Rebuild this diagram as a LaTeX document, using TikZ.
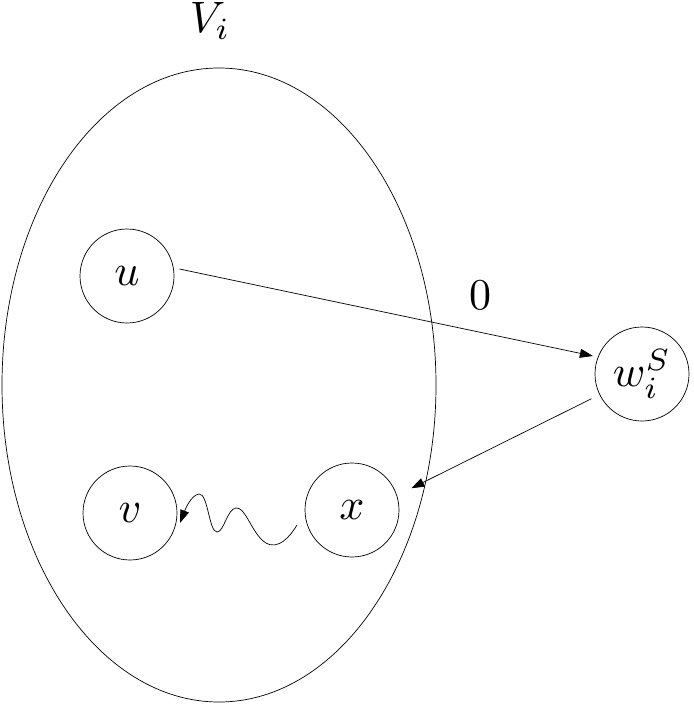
\documentclass[tikz,border=0pt]{standalone}
\usetikzlibrary{arrows.meta}
\newcommand{\myLargeMath}[1]{\scalebox{4.4}{$#1$}}
\begin{document}
\begin{tikzpicture}[x=1pt,y=-1pt,
  vert/.style={draw,circle,line width=0.7pt,minimum size=94pt,inner sep=0pt},
  conn/.style={line width=0.7pt,-{Triangle[length=13pt,width=9pt]}},
  lbl/.style={inner sep=0pt}]
\useasboundingbox (0,0) rectangle (693,706);
\draw[line width=0.7pt] (219,385) ellipse [x radius=217pt, y radius=317pt];
\node[lbl,anchor=base] (Vi) at (210,33) {\myLargeMath{V_i}};
\node[vert] (u) at (127,276) {\myLargeMath{u}};
\node[vert] (v) at (130,513) {\myLargeMath{v}};
\node[vert] (x) at (352,510) {\myLargeMath{x}};
\node[vert] (w) at (642,374) {\myLargeMath{w_i^S}};
\node[lbl,anchor=base] (zero) at (480,309) {\myLargeMath{0}};
\draw[conn,shorten <=6pt,shorten >=5pt] (u.10) -- (w.159);
\draw[conn,shorten <=9pt,shorten >=16pt] (w.206) -- (x.18);
\coordinate (ws) at (297,525);
\coordinate (we) at (180,523);
\draw[conn] (ws) .. controls (285,545) and (272,550) .. (262,540)
  .. controls (250,528) and (245,507) .. (236,508)
  .. controls (227,509) and (224,532) .. (217,532)
  .. controls (209,532) and (208,493) .. (199,494)
  .. controls (191,495) and (185,510) .. (we);
\end{tikzpicture}
\end{document}
